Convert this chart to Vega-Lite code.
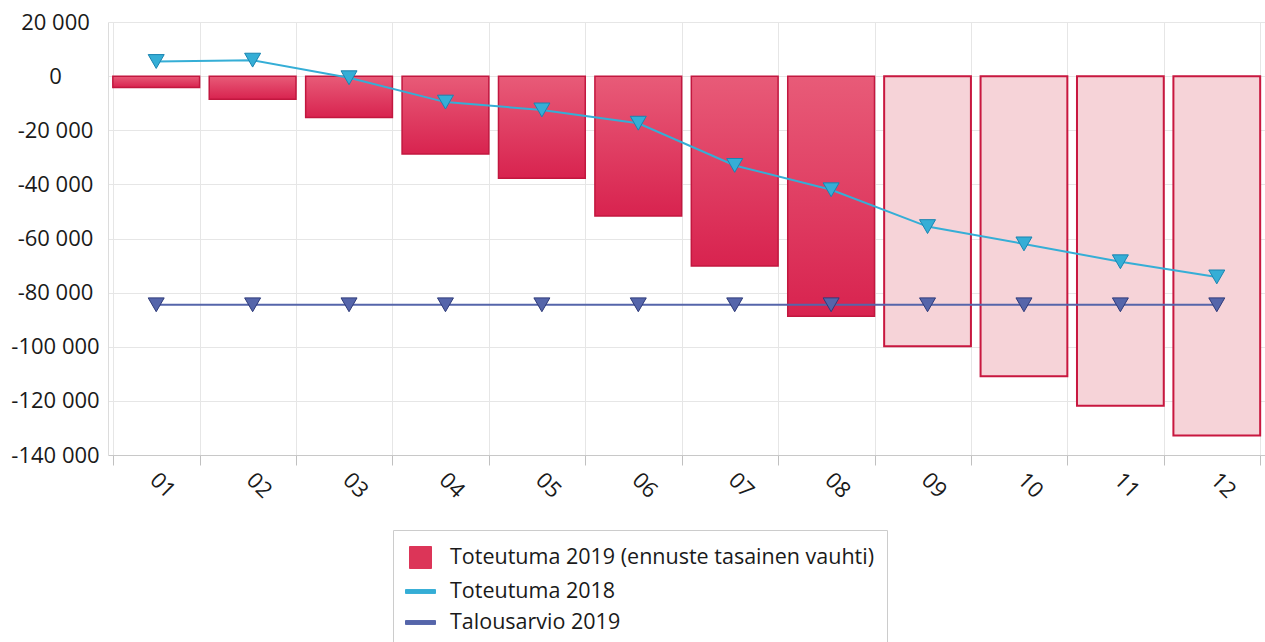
{
  "$schema": "https://vega.github.io/schema/vega-lite/v6.json",
  "autosize": {"type": "none"},
  "padding": {"left": 108, "top": 22, "right": 0, "bottom": 187},
  "width": 1157,
  "height": 433,
  "background": "#ffffff",
  "datasets": {
    "bars": [
      {"month": "01", "value": -4200, "type": "toteutuma"},
      {"month": "02", "value": -8500, "type": "toteutuma"},
      {"month": "03", "value": -15300, "type": "toteutuma"},
      {"month": "04", "value": -28800, "type": "toteutuma"},
      {"month": "05", "value": -37700, "type": "toteutuma"},
      {"month": "06", "value": -51700, "type": "toteutuma"},
      {"month": "07", "value": -70200, "type": "toteutuma"},
      {"month": "08", "value": -88700, "type": "toteutuma"},
      {"month": "09", "value": -99800, "type": "ennuste"},
      {"month": "10", "value": -110900, "type": "ennuste"},
      {"month": "11", "value": -121800, "type": "ennuste"},
      {"month": "12", "value": -132800, "type": "ennuste"}
    ],
    "lines": [
      {"month": "01", "series": "Toteutuma 2018", "value": 5400},
      {"month": "02", "series": "Toteutuma 2018", "value": 5900},
      {"month": "03", "series": "Toteutuma 2018", "value": -600},
      {"month": "04", "series": "Toteutuma 2018", "value": -9600},
      {"month": "05", "series": "Toteutuma 2018", "value": -12500},
      {"month": "06", "series": "Toteutuma 2018", "value": -17400},
      {"month": "07", "series": "Toteutuma 2018", "value": -33000},
      {"month": "08", "series": "Toteutuma 2018", "value": -42000},
      {"month": "09", "series": "Toteutuma 2018", "value": -55600},
      {"month": "10", "series": "Toteutuma 2018", "value": -62000},
      {"month": "11", "series": "Toteutuma 2018", "value": -68600},
      {"month": "12", "series": "Toteutuma 2018", "value": -74200},
      {"month": "01", "series": "Talousarvio 2019", "value": -84500},
      {"month": "02", "series": "Talousarvio 2019", "value": -84500},
      {"month": "03", "series": "Talousarvio 2019", "value": -84500},
      {"month": "04", "series": "Talousarvio 2019", "value": -84500},
      {"month": "05", "series": "Talousarvio 2019", "value": -84500},
      {"month": "06", "series": "Talousarvio 2019", "value": -84500},
      {"month": "07", "series": "Talousarvio 2019", "value": -84500},
      {"month": "08", "series": "Talousarvio 2019", "value": -84500},
      {"month": "09", "series": "Talousarvio 2019", "value": -84500},
      {"month": "10", "series": "Talousarvio 2019", "value": -84500},
      {"month": "11", "series": "Talousarvio 2019", "value": -84500},
      {"month": "12", "series": "Talousarvio 2019", "value": -84500}
    ]
  },
  "config": {
    "view": {"stroke": null},
    "font": "Open Sans",
    "axis": {"gridColor": "#e6e6e6", "gridWidth": 1}
  },
  "encoding": {
    "x": {
      "field": "month",
      "type": "ordinal",
      "scale": {"paddingInner": 0.1, "paddingOuter": 0.05},
      "axis": {
        "title": null,
        "tickBand": "extent",
        "grid": true,
        "domainColor": "#c8c8c8",
        "tickColor": "#c0c0c0",
        "tickSize": 10,
        "labelAngle": 45,
        "labelAlign": "center",
        "labelBaseline": "middle",
        "labelPadding": 20,
        "labelOffset": 6,
        "labelFontSize": 22,
        "labelColor": "#1a1a1a"
      }
    },
    "y": {
      "field": "value",
      "type": "quantitative",
      "scale": {"domain": [-140000, 20000], "nice": false, "zero": false},
      "axis": {
        "title": null,
        "values": [-140000, -120000, -100000, -80000, -60000, -40000, -20000, 0, 20000],
        "ticks": false,
        "grid": true,
        "domainColor": "#dcdcdc",
        "labelAlign": "center",
        "labelPadding": 53,
        "labelFontSize": 22,
        "labelColor": "#1a1a1a",
        "labelExpr": "(datum.value < 0 ? '-' : '') + replace(format(abs(datum.value), ','), ',', ' ')"
      }
    }
  },
  "layer": [
    {
      "data": {"name": "bars"},
      "transform": [{"filter": "datum.type === 'toteutuma'"}],
      "mark": {
        "type": "bar",
        "fill": {"gradient": "linear", "x1": 0, "y1": 0, "x2": 0, "y2": 1,
          "stops": [{"offset": 0, "color": "#e85b78"}, {"offset": 1, "color": "#d8234f"}]},
        "stroke": "#c2173f",
        "strokeWidth": 1.5
      },
      "encoding": {"y2": {"datum": 0}}
    },
    {
      "data": {"name": "bars"},
      "transform": [{"filter": "datum.type === 'ennuste'"}],
      "mark": {"type": "bar", "fill": "#f6d3d8", "stroke": "#c8173f", "strokeWidth": 2},
      "encoding": {"y2": {"datum": 0}}
    },
    {
      "data": {"name": "lines"},
      "mark": {"type": "line", "strokeWidth": 2},
      "encoding": {
        "color": {
          "field": "series",
          "type": "nominal",
          "scale": {
            "domain": ["Toteutuma 2019 (ennuste tasainen vauhti)", "Toteutuma 2018", "Talousarvio 2019"],
            "range": ["#dc3558", "#35aed6", "#5565aa"]
          },
          "legend": {
            "title": null,
            "orient": "none",
            "legendX": 285,
            "legendY": 508,
            "fillColor": "#ffffff",
            "strokeColor": "#cccccc",
            "padding": 12,
            "rowPadding": 5,
            "labelFontSize": 21.5,
            "labelColor": "#1a1a1a",
            "labelOffset": 14,
            "labelLimit": 600,
            "symbolSize": 900,
            "encode": {
              "symbols": {
                "update": {
                  "shape": {"signal": "datum.index === 0 ? 'square' : 'M-1,-0.13H1V0.13H-1Z'"},
                  "size": {"signal": "datum.index === 0 ? 484 : 900"},
                  "fill": {"scale": "color", "field": "value"},
                  "stroke": {"signal": "datum.index === 0 ? '#c2173f' : 'transparent'"},
                  "strokeWidth": {"value": 1},
                  "opacity": {"value": 1},
                  "fillOpacity": {"value": 1}
                }
              }
            }
          }
        }
      }
    },
    {
      "data": {"name": "lines"},
      "mark": {"type": "point", "shape": "triangle-down", "filled": true, "size": 256, "opacity": 1, "strokeWidth": 1},
      "encoding": {
        "color": {"field": "series", "type": "nominal"},
        "stroke": {
          "field": "series",
          "type": "nominal",
          "scale": {"domain": ["Toteutuma 2018", "Talousarvio 2019"], "range": ["#1a84b0", "#2f3b7a"]},
          "legend": null
        }
      }
    }
  ]
}
